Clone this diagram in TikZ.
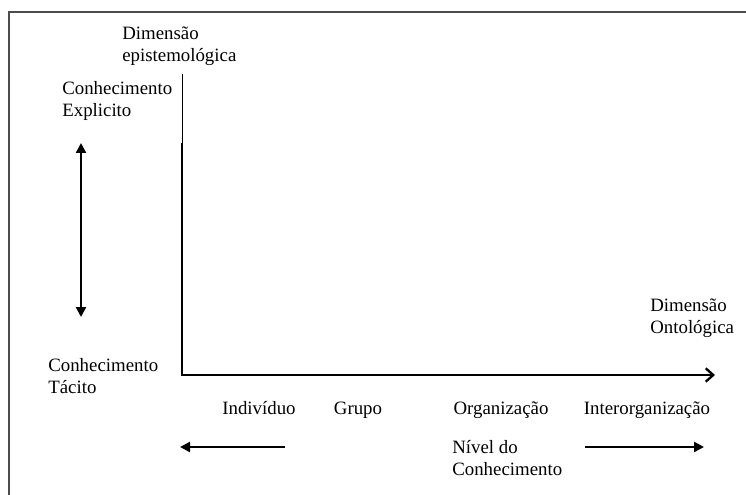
\documentclass[tikz,border=0pt]{standalone}
\usepackage{fontspec}
\setmainfont{Liberation Serif}
\usetikzlibrary{arrows.meta}

\begin{document}
\begin{tikzpicture}[x=0.6pt,y=-0.6pt,
    labeltext/.style={font=\fontsize{11.3}{13.2}\selectfont, inner sep=0pt, align=left},
    frameline/.style={line width=1.2pt, draw=black!70},
    fatarrow/.style={line width=1.4pt, -{Triangle[length=6pt,width=6pt]}}]
    \useasboundingbox (0,0) rectangle (746,495);
    % Frame
    \draw[frameline] (9,495) -- (9,12) -- (746,12);
    % Axes
    \coordinate (ytop) at (182,74);
    \coordinate (ymid) at (182,143);
    \coordinate (origin) at (182,375);
    \coordinate (xend) at (715,375);
    \draw[line width=0.6pt] (ytop) -- (ymid);
    \draw[line width=1.4pt, -{Straight Barb[length=4.5pt,width=8pt]}] (ymid) -- (origin) -- (xend);
    % Axis titles
    \node[labeltext, anchor=north west] (epist) at (122,26) {Dimensão\\epistemológica};
    \node[labeltext, anchor=north west] (ontol) at (650,298) {Dimensão\\Ontológica};
    % Epistemological dimension
    \node[labeltext, anchor=north west] (explicito) at (62,81) {Conhecimento\\Explicito};
    \node[labeltext, anchor=north west] (tacito) at (48,358) {Conhecimento\\Tácito};
    \coordinate (uptip) at (81,143);
    \coordinate (downtip) at (81,317);
    \draw[fatarrow, {Triangle[length=6pt,width=6pt]}-{Triangle[length=6pt,width=6pt]}] (uptip) -- (downtip);
    % Ontological levels
    \node[labeltext, anchor=base] (individuo) at (259,414) {Indivíduo};
    \node[labeltext, anchor=base] (grupo) at (358,414) {Grupo};
    \node[labeltext, anchor=base] (organiz) at (501,414) {Organização};
    \node[labeltext, anchor=base] (interorg) at (647,414) {Interorganização};
    % Level of knowledge
    \node[labeltext, anchor=north west] (nivel) at (452,440) {Nível do\\Conhecimento};
    \coordinate (lstart) at (285,447);
    \coordinate (lend) at (180,447);
    \coordinate (rstart) at (585,447);
    \coordinate (rend) at (704,447);
    \draw[fatarrow] (lstart) -- (lend);
    \draw[fatarrow] (rstart) -- (rend);
\end{tikzpicture}
\end{document}
